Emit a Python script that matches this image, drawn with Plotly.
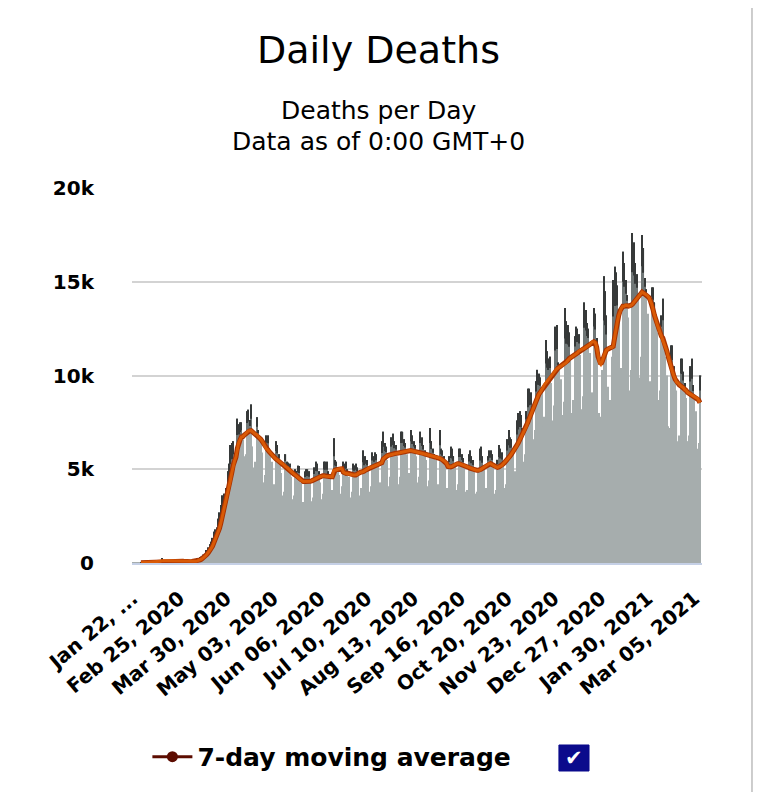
import plotly.graph_objects as go
import pandas as pd

# daily deaths, one row per week (Wed..Tue), starting Jan 22, 2020
daily_deaths = [
    17, 8, 16, 15, 24, 26, 26,
    38, 43, 46, 45, 57, 64, 66,
    73, 73, 86, 89, 97, 108, 97,
    254, 13, 143, 142, 106, 98, 139,
    115, 125, 4, 207, 98, 158, 78,
    62, 58, 59, 85, 71, 88, 67,
    84, 99, 103, 107, 103, 228, 203,
    324, 336, 445, 412, 687, 687, 824,
    1006, 1131, 1338, 1669, 1793, 1890, 2358,
    2700, 3100, 3600, 3700, 3500, 4000, 4900,
    5300, 6300, 6400, 6500, 5200, 5400, 7700,
    7400, 7500, 7500, 6600, 5700, 5800, 8100,
    8170, 7630, 8457, 6219, 5099, 5400, 7776,
    7100, 6800, 6500, 5900, 4300, 4700, 6800,
    6800, 6100, 5700, 5400, 3900, 4200, 6500,
    6300, 5800, 5500, 4800, 3600, 3800, 5800,
    5400, 5350, 5300, 4600, 3400, 3600, 5000,
    4911, 5181, 5174, 4298, 3071, 3258, 4877,
    5000, 5000, 4900, 4300, 3300, 3500, 5100,
    5400, 5300, 4900, 4300, 3400, 3700, 5400,
    5400, 5400, 4900, 4600, 3600, 3900, 6650,
    5500, 5400, 5100, 4700, 3700, 4100, 5400,
    5300, 5400, 5000, 4600, 3500, 3800, 5300,
    5200, 5300, 5100, 4700, 3600, 4000, 6000,
    5600, 5700, 5500, 5000, 3800, 4100, 5900,
    5700, 5900, 5800, 5300, 4000, 4300, 6500,
    7000, 6400, 6200, 5500, 4100, 4600, 6700,
    6900, 6500, 6300, 5700, 4200, 4600, 7000,
    7000, 6600, 6400, 5800, 4300, 4800, 7100,
    6800, 6500, 6300, 5700, 4300, 4600, 7000,
    6700, 6300, 6000, 5500, 4100, 4400, 7200,
    6500, 6100, 5800, 5500, 4000, 4200, 7100,
    6100, 6000, 5700, 5200, 4000, 3300, 5700,
    6200, 6100, 5700, 5300, 3900, 4200, 6100,
    6100, 5800, 5600, 5200, 3800, 3900, 5800,
    6000, 5700, 5500, 5000, 3700, 3800, 5000,
    6100, 6200, 5700, 5100, 3800, 4000, 5700,
    6000, 6000, 5800, 5200, 3700, 3900, 5500,
    6300, 6100, 5900, 5400, 4000, 4200, 6600,
    7100, 6700, 6600, 6000, 4500, 4900, 7600,
    8000, 8100, 7900, 7200, 5400, 5800, 8100,
    9300, 9300, 9100, 8400, 6600, 7100, 9700,
    10300, 10100, 9900, 9200, 7300, 7800, 11900,
    11300, 10900, 11000, 9600, 7600, 8400, 12600,
    12700, 10700, 10500, 9800, 7900, 8600, 13600,
    12900, 12700, 12300, 11000, 8000, 8700, 12100,
    12600, 12500, 12200, 11100, 8200, 8900, 13900,
    13500, 12800, 12500, 11200, 8500, 9100, 13600,
    13300, 12000, 7700, 8000, 7800, 10300, 15300,
    14500, 13200, 9400, 8300, 8700, 11000, 15100,
    15800, 15500, 14800, 13200, 9400, 10400, 16600,
    16000, 15100, 14300, 13100, 9200, 10300, 17600,
    17100, 16000, 15400, 14100, 9900, 11000, 17500,
    16800, 15200, 14600, 13300, 9500, 9700, 14700,
    14700, 13900, 13100, 12300, 8700, 9200, 13200,
    14100, 12000, 11000, 10000, 7300, 7200, 11600,
    11600, 10500, 9900, 9200, 6500, 6800, 10900,
    10900, 10200, 9600, 8800, 6500, 6800, 10500,
    10900, 9500, 8900, 8100, 6100, 6400, 10000,
]

# 7-day moving average, same layout
moving_avg = [
    None, None, None, None, None, None, 19,
    22, 26, 30, 34, 39, 44, 51,
    56, 61, 67, 73, 78, 85, 89,
    114, 106, 115, 123, 124, 122, 128,
    94, 110, 90, 99, 98, 107, 112,
    90, 96, 90, 73, 73, 72, 70,
    73, 79, 85, 89, 90, 111, 132,
    169, 209, 258, 301, 384, 470, 560,
    660, 775, 905, 1085, 1240, 1410, 1600,
    1840, 2120, 2440, 2740, 2990, 3290, 3640,
    4010, 4420, 4820, 5220, 5450, 5650, 6110,
    6410, 6570, 6730, 6740, 6820, 6880, 6940,
    7040, 7050, 7060, 7000, 6910, 6870, 6850,
    6780, 6700, 6600, 6500, 6350, 6200, 6100,
    6050, 5950, 5850, 5800, 5700, 5620, 5550,
    5500, 5430, 5380, 5320, 5280, 5200, 5150,
    5100, 5020, 4950, 4880, 4800, 4750, 4700,
    4630, 4570, 4500, 4430, 4380, 4350, 4350,
    4340, 4330, 4350, 4360, 4380, 4420, 4450,
    4500, 4550, 4570, 4600, 4620, 4650, 4650,
    4630, 4620, 4600, 4600, 4600, 4600, 4920,
    4950, 4980, 5000, 5020, 5050, 5030, 4850,
    4800, 4780, 4800, 4770, 4750, 4720, 4700,
    4700, 4700, 4720, 4780, 4820, 4850, 4850,
    4900, 4950, 4980, 5020, 5080, 5100, 5120,
    5150, 5200, 5220, 5250, 5280, 5300, 5350,
    5550, 5630, 5680, 5720, 5750, 5780, 5800,
    5800, 5820, 5850, 5850, 5870, 5880, 5900,
    5920, 5950, 5970, 5980, 6000, 6000, 6000,
    5980, 5970, 5950, 5930, 5920, 5900, 5900,
    5870, 5850, 5820, 5800, 5780, 5770, 5750,
    5730, 5700, 5680, 5650, 5630, 5600, 5600,
    5550, 5500, 5450, 5400, 5300, 5150, 5120,
    5120, 5150, 5200, 5250, 5280, 5300, 5300,
    5280, 5250, 5220, 5200, 5180, 5120, 5100,
    5050, 5020, 5000, 4980, 4960, 4950, 4950,
    4950, 5000, 5050, 5100, 5150, 5220, 5280,
    5300, 5300, 5250, 5200, 5150, 5120, 5100,
    5120, 5150, 5200, 5280, 5350, 5420, 5500,
    5600, 5700, 5800, 5900, 6000, 6100, 6250,
    6400, 6550, 6700, 6800, 6950, 7100, 7300,
    7500, 7700, 7900, 8100, 8300, 8500, 8700,
    8850, 9000, 9100, 9200, 9350, 9500, 9600,
    9700, 9800, 9900, 10000, 10100, 10200, 10300,
    10350, 10400, 10450, 10500, 10550, 10600, 10650,
    10700, 10800, 10900, 10950, 11000, 11050, 11100,
    11150, 11200, 11300, 11350, 11400, 11420, 11450,
    11500, 11550, 11600, 11650, 11750, 11800, 11800,
    11750, 11500, 11000, 10700, 10600, 10750, 11000,
    11200, 11350, 11400, 11450, 11500, 11500, 11550,
    12000, 12500, 12850, 13200, 13450, 13600, 13700,
    13700, 13750, 13720, 13700, 13700, 13750, 13800,
    13900, 14000, 14100, 14200, 14300, 14400, 14450,
    14400, 14350, 14300, 14250, 14150, 14000, 13800,
    13500, 13200, 12950, 12700, 12500, 12300, 12100,
    12000, 11800, 11550, 11300, 11000, 10700, 10450,
    10200, 10000, 9800, 9650, 9600, 9500, 9450,
    9400, 9350, 9250, 9200, 9100, 9050, 9000,
    8950, 8900, 8850, 8820, 8800, 8700, 8550,
]

tick_dates = ['2020-01-22', '2020-02-25', '2020-03-30', '2020-05-03', '2020-06-06',
              '2020-07-10', '2020-08-13', '2020-09-16', '2020-10-20', '2020-11-23',
              '2020-12-27', '2021-01-30', '2021-03-05']
tick_labels = ['Jan 22, ...', 'Feb 25, 2020', 'Mar 30, 2020', 'May 03, 2020', 'Jun 06, 2020',
               'Jul 10, 2020', 'Aug 13, 2020', 'Sep 16, 2020', 'Oct 20, 2020', 'Nov 23, 2020',
               'Dec 27, 2020', 'Jan 30, 2021', 'Mar 05, 2021']
y_ticks = [0, 5000, 10000, 15000, 20000]
y_labels = ['0', '5k', '10k', '15k', '20k']

dates = pd.date_range('2020-01-22', periods=len(daily_deaths), freq='D')
font = 'DejaVu Sans'

# dark tops: the part of each bar that sticks out above the moving average
tip_base = []
tip_mid = []
tip_top = []
for v, a in zip(daily_deaths, moving_avg):
    a = a if a is not None else v
    extra = max(v - a, 0)
    tip_base.append(v - extra)
    tip_mid.append(extra)
    tip_top.append(extra * 0.55)

fig = go.Figure()

fig.add_trace(go.Bar(x=dates, y=daily_deaths, marker=dict(color='#a6adad', line=dict(width=0)),
                     showlegend=False, hoverinfo='skip'))
fig.add_trace(go.Bar(x=dates, y=tip_mid, base=tip_base,
                     marker=dict(color='#6f7676', line=dict(width=0)), showlegend=False, hoverinfo='skip'))
fig.add_trace(go.Bar(x=dates, y=tip_top, base=[b + m - t for b, m, t in zip(tip_base, tip_mid, tip_top)],
                     marker=dict(color='#363939', line=dict(width=0)), showlegend=False, hoverinfo='skip'))

# moving average line
fig.add_trace(go.Scatter(x=dates, y=moving_avg, mode='lines', line=dict(color='#a83200', width=5),
                         showlegend=False, hoverinfo='skip'))
fig.add_trace(go.Scatter(x=dates, y=moving_avg, mode='lines', line=dict(color='#d95a06', width=3),
                         showlegend=False))
# legend entry
fig.add_trace(go.Scatter(x=[None], y=[None], mode='lines+markers', name='7-day moving average',
                         line=dict(color='#5c0c00', width=3), marker=dict(color='#5c0c00', size=11)))

fig.update_layout(
    width=773, height=792,
    margin=dict(l=124, r=79, t=180, b=237),
    paper_bgcolor='white', plot_bgcolor='white',
    barmode='overlay', bargap=0.2,
    font=dict(family=font, color='#000000'),
    xaxis=dict(type='date', range=['2020-01-21 12:00', '2021-03-10 12:00'],
               tickvals=tick_dates, ticktext=tick_labels, tickangle=-40,
               tickfont=dict(size=20, color='#000000', weight='bold'), showgrid=False,
               showline=True, linecolor='#c5d0e6', linewidth=2, ticks='', zeroline=False,
               ticklabelstandoff=14),
    yaxis=dict(range=[0, 20000], tickvals=y_ticks, ticktext=y_labels,
               tickfont=dict(size=20, color='#000000', weight='bold'), showgrid=True,
               gridcolor='#d3d3d3', gridwidth=1.5, zeroline=False, ticks='', ticklabelstandoff=37),
    legend=dict(orientation='h', x=0.027, xanchor='left', y=-0.517, yanchor='middle',
                font=dict(size=25, family=font, weight='bold', color='#000000'),
                itemwidth=40),
    annotations=[
        dict(text='Daily Deaths', x=0.432, y=1.368, xref='paper', yref='paper', showarrow=False,
             font=dict(size=38, family=font, color='#000000'), xanchor='center', yanchor='middle'),
        dict(text='Deaths per Day', x=0.433, y=1.208, xref='paper', yref='paper', showarrow=False,
             font=dict(size=25, family=font, color='#000000'), xanchor='center', yanchor='middle'),
        dict(text='Data as of 0:00 GMT+0', x=0.433, y=1.125, xref='paper', yref='paper', showarrow=False,
             font=dict(size=25, family=font, color='#000000'), xanchor='center', yanchor='middle'),
        dict(text='✔', x=0.7754, y=-0.52, xref='paper', yref='paper', showarrow=False,
             font=dict(size=21, family=font, color='white'),
             xanchor='center', yanchor='middle'),
    ],
    shapes=[
        dict(type='rect', xref='paper', yref='paper', x0=0.749, x1=0.8018, y0=-0.5547, y1=-0.4853,
             fillcolor='#0b0b8c', line=dict(color='#0b0b8c', width=1), layer='below'),
        dict(type='line', xref='paper', yref='paper', x0=1.0877, x1=1.0877, y0=-0.611, y1=1.502,
             line=dict(color='#bdbdbd', width=1.5)),
    ],
)

fig.write_html('out.html')
